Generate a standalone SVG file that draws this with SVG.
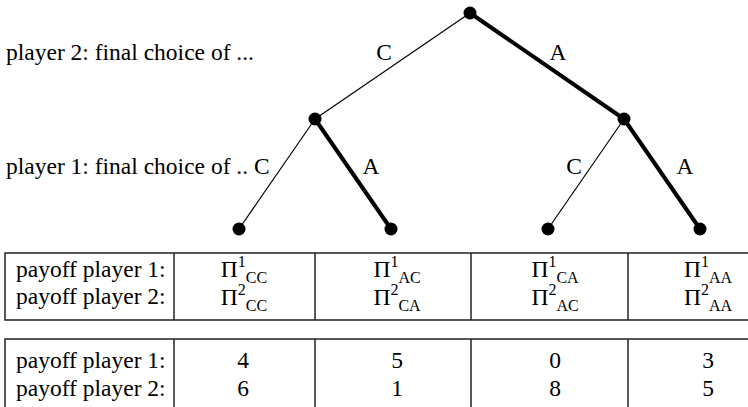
<svg xmlns="http://www.w3.org/2000/svg" width="748" height="407" viewBox="0 0 748 407">
<style>
.thin{stroke:#000;stroke-width:1.2;fill:none}
.thick{stroke:#000;stroke-width:4;fill:none;stroke-linecap:round}
.dot{fill:#000}
.tbl{fill:none;stroke:#222;stroke-width:1.5}
.m{text-anchor:middle}
</style>
<rect width="748" height="407" fill="#fff"/>
<g font-family="'Liberation Serif', serif" font-size="23.5" fill="#000">
<text x="6" y="60">player 2: final choice of ...</text>
<text x="6" y="174">player 1: final choice of .. C</text>
<g id="connectors">
<line class="thin" x1="470" y1="13" x2="315" y2="119"/>
<line class="thick" x1="470" y1="13" x2="624" y2="119"/>
<line class="thin" x1="315" y1="119" x2="239" y2="229"/>
<line class="thick" x1="315" y1="119" x2="391" y2="229"/>
<line class="thin" x1="624" y1="119" x2="548" y2="229"/>
<line class="thick" x1="624" y1="119" x2="700" y2="229"/>
<text x="384" y="60" class="m">C</text>
<text x="558" y="60" class="m">A</text>
<text x="371" y="174" class="m">A</text>
<text x="574" y="174" class="m">C</text>
<text x="685" y="174" class="m">A</text>
</g>
<g id="root"><circle class="dot" cx="470" cy="13" r="6.5"/></g>
<g id="p1-left"><circle class="dot" cx="315" cy="119" r="6.5"/></g>
<g id="p1-right"><circle class="dot" cx="624" cy="119" r="6.5"/></g>
<g id="leaf-cc"><circle class="dot" cx="239" cy="229" r="6.5"/></g>
<g id="leaf-ac"><circle class="dot" cx="391" cy="229" r="6.5"/></g>
<g id="leaf-ca"><circle class="dot" cx="548" cy="229" r="6.5"/></g>
<g id="leaf-aa"><circle class="dot" cx="700" cy="229" r="6.5"/></g>
<g id="table-symbolic">
<rect class="tbl" x="5" y="253" width="800" height="67"/>
<line class="tbl" x1="174" y1="253" x2="174" y2="320"/>
<line class="tbl" x1="315" y1="253" x2="315" y2="320"/>
<line class="tbl" x1="471" y1="253" x2="471" y2="320"/>
<line class="tbl" x1="628" y1="253" x2="628" y2="320"/>
<text x="16" y="277">payoff player 1:</text>
<text x="16" y="304">payoff player 2:</text>
<text x="244" y="277" class="m">Π<tspan font-size="16" dy="-10">1</tspan><tspan font-size="16" dy="16">CC</tspan></text>
<text x="244" y="305" class="m">Π<tspan font-size="16" dy="-10">2</tspan><tspan font-size="16" dy="16">CC</tspan></text>
<text x="397" y="277" class="m">Π<tspan font-size="16" dy="-10">1</tspan><tspan font-size="16" dy="16">AC</tspan></text>
<text x="397" y="305" class="m">Π<tspan font-size="16" dy="-10">2</tspan><tspan font-size="16" dy="16">CA</tspan></text>
<text x="555" y="277" class="m">Π<tspan font-size="16" dy="-10">1</tspan><tspan font-size="16" dy="16">CA</tspan></text>
<text x="555" y="305" class="m">Π<tspan font-size="16" dy="-10">2</tspan><tspan font-size="16" dy="16">AC</tspan></text>
<text x="708" y="277" class="m">Π<tspan font-size="16" dy="-10">1</tspan><tspan font-size="16" dy="16">AA</tspan></text>
<text x="708" y="305" class="m">Π<tspan font-size="16" dy="-10">2</tspan><tspan font-size="16" dy="16">AA</tspan></text>
</g>
<g id="table-numeric">
<rect class="tbl" x="5" y="339" width="800" height="100"/>
<line class="tbl" x1="174" y1="339" x2="174" y2="407"/>
<line class="tbl" x1="315" y1="339" x2="315" y2="407"/>
<line class="tbl" x1="471" y1="339" x2="471" y2="407"/>
<line class="tbl" x1="628" y1="339" x2="628" y2="407"/>
<text x="16" y="368">payoff player 1:</text>
<text x="16" y="396">payoff player 2:</text>
<text x="243" y="368" class="m">4</text>
<text x="243" y="396" class="m">6</text>
<text x="397" y="368" class="m">5</text>
<text x="397" y="396" class="m">1</text>
<text x="555" y="368" class="m">0</text>
<text x="555" y="396" class="m">8</text>
<text x="708" y="368" class="m">3</text>
<text x="708" y="396" class="m">5</text>
</g>
</g>
</svg>
